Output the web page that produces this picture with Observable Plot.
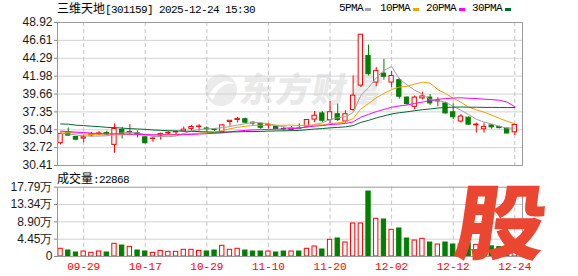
<!DOCTYPE html>
<html><head><meta charset="utf-8">
<script src="https://cdn.jsdelivr.net/npm/d3@7"></script>
<script src="https://cdn.jsdelivr.net/npm/@observablehq/plot@0.6"></script>
<style>
body{margin:0;background:#fff;}
#wrap{position:relative;width:578px;height:276px;background:#fff;}
.abs{position:absolute;white-space:nowrap;}
.mono{font-family:"Liberation Mono",monospace;font-size:11px;letter-spacing:-0.6px;}
.cjk{font-family:"Noto Sans CJK SC",sans-serif;}
#price,#vol{position:absolute;left:0;}
#price{top:0;z-index:2;}
#vol{top:168px;z-index:2;}
.sq{position:absolute;width:6px;height:3px;top:8px;}
</style></head><body>
<div id="wrap">
  <div class="abs" id="wm" style="left:203px;top:66px;z-index:1;">
    <svg width="36" height="36" style="position:absolute;left:0;top:6px" viewBox="0 0 36 36">
      <circle cx="18" cy="18" r="16" fill="#ebebeb"/>
      <path d="M6 24 C12 10, 24 6, 32 12 C22 10, 14 16, 10 28 Z" fill="#fff"/>
    </svg>
    <div class="abs cjk" style="left:38px;top:0;font-size:34px;font-weight:900;color:#e9e9e9;letter-spacing:2px;transform:skewX(-10deg);line-height:44px;">东方财富</div>
  </div>
  <div class="abs" style="left:57px;top:1px;line-height:14px;font-size:12px;color:#000;"><span class="cjk">三维天地</span><span class="mono">[301159] 2025-12-24 15:30</span></div>
  <div class="abs mono" style="left:339px;top:1px;line-height:14px;color:#000;">5PMA</div>
  <div class="sq" style="left:365px;background:#a6a6a6"></div>
  <div class="abs mono" style="left:380px;top:1px;line-height:14px;color:#000;">10PMA</div>
  <div class="sq" style="left:413px;background:#f0a000"></div>
  <div class="abs mono" style="left:426px;top:1px;line-height:14px;color:#000;">20PMA</div>
  <div class="sq" style="left:459px;background:#ff00ff"></div>
  <div class="abs mono" style="left:472px;top:1px;line-height:14px;color:#000;">30PMA</div>
  <div class="sq" style="left:505px;background:#006a33"></div>
  <div class="abs" style="left:57px;top:171px;line-height:14px;font-size:12px;color:#000;z-index:3;"><span class="cjk">成交量</span><span class="mono">:22868</span></div>
  <div id="price"></div>
  <div id="vol"></div>
  <div class="abs cjk" style="left:463px;top:176px;z-index:5;font-size:82px;font-weight:900;color:#ea4630;line-height:84px;transform:skewX(-8deg) scaleX(1.1);transform-origin:left top;">股</div>
</div>
<script>
const dates = ["09-24","09-25","09-26","09-29","09-30","10-09","10-10","10-13","10-14","10-15","10-16","10-17","10-20","10-21","10-22","10-23","10-24","10-27","10-28","10-29","10-30","10-31","11-03","11-04","11-05","11-06","11-07","11-10","11-11","11-12","11-13","11-14","11-17","11-18","11-19","11-20","11-21","11-24","11-25","11-26","11-27","11-28","12-01","12-02","12-03","12-04","12-05","12-08","12-09","12-10","12-11","12-12","12-15","12-16","12-17","12-18","12-19","12-22","12-23","12-24"];
const open  = [33.3,34.7,34.1,33.9,34.3,34.45,34.6,33.08,35.01,34.6,34.6,34.06,33.85,34.3,34.55,34.7,34.8,35.15,35.4,35.2,35.05,34.7,36.04,36.3,36.4,35.95,35.8,35.6,35.45,35.15,35.0,35.2,35.45,36.35,37.15,36.3,37.05,36.1,37.6,40.75,44.6,41.15,42.3,41.15,41.46,39.2,38.0,39.1,39.2,38.7,38.45,37.3,36.1,36.6,35.6,35.1,35.6,35.4,35.2,34.7];
const high  = [34.6,35.27,34.15,34.28,34.7,34.8,34.85,35.79,35.35,35.7,34.9,34.1,34.0,34.6,34.8,34.85,35.4,35.6,35.7,35.4,35.2,35.7,36.2,36.65,36.55,36.05,35.9,35.85,35.6,35.4,35.45,35.8,36.35,37.4,37.4,38.7,38.35,37.5,42.0,47.34,46.0,43.1,44.15,42.6,41.7,39.3,39.4,39.9,39.6,39.2,38.6,38.4,37.0,36.7,35.9,35.9,35.7,35.5,35.2,35.7];
const low   = [33.08,34.19,33.6,33.34,34.1,34.3,34.3,31.99,33.85,34.28,33.98,33.2,33.4,33.7,34.4,34.4,34.7,34.85,34.85,34.7,34.8,34.6,35.5,35.9,35.8,35.6,35.1,35.15,35.1,34.85,34.85,35.05,35.35,35.95,36.0,35.8,36.1,35.9,37.4,40.5,42.0,40.6,41.45,40.5,39.0,38.2,37.6,38.9,38.2,38.0,37.1,36.35,35.9,35.6,34.6,34.6,35.1,35.15,34.55,34.28];
const close = [34.5,34.28,33.75,34.06,34.45,34.55,34.45,35.14,34.5,34.75,34.35,33.29,33.9,34.5,34.65,34.75,35.05,35.4,35.45,35.1,35.0,35.6,36.2,36.45,35.95,35.85,35.3,35.65,35.15,35.1,35.2,35.15,36.3,36.85,36.2,37.3,36.3,37.05,39.45,47.34,42.24,42.66,41.9,42.0,39.31,38.37,39.2,39.35,38.45,38.8,37.15,36.65,36.75,35.7,35.7,35.4,35.35,35.25,34.55,35.65];
const volume = [19800,15400,10300,12800,9500,12800,10300,32600,28200,24800,15400,12800,9500,14500,12000,12000,17200,17200,14500,12800,15400,27500,17200,19800,15400,12800,12800,12800,10300,12800,12800,12800,19800,25700,18000,42800,46200,35900,84700,84700,166800,96800,95000,68500,71900,46200,41000,45400,35900,30800,35900,30800,30800,34000,30000,28200,26000,24000,23000,22868];
const ma5  = [34.6,34.5,34.35,34.25,34.21,34.22,34.25,34.53,34.62,34.68,34.64,34.41,34.16,34.16,34.14,34.22,34.57,34.87,35.06,35.15,35.2,35.31,35.45,35.65,35.82,35.99,35.93,35.84,35.58,35.41,35.28,35.25,35.38,35.72,35.94,36.36,36.59,36.74,37.26,39.49,40.48,41.75,42.72,43.23,41.62,40.85,40.16,39.65,38.94,38.83,38.59,38.08,37.56,37.01,36.39,36.04,35.78,35.48,35.25,35.24];
const ma10 = [34.75,34.7,34.6,34.5,34.42,34.38,34.36,34.38,34.4,34.44,34.43,34.33,34.34,34.39,34.41,34.43,34.49,34.51,34.61,34.64,34.71,34.94,35.16,35.36,35.49,35.6,35.62,35.65,35.62,35.62,35.64,35.59,35.61,35.65,35.68,35.82,35.92,36.06,36.49,37.71,38.42,39.17,39.73,40.24,40.56,40.66,40.95,41.18,41.08,40.23,39.72,39.12,38.6,37.97,37.61,37.32,36.93,36.52,36.13,35.82];
const ma20 = [34.86,34.8,34.73,34.67,34.6,34.54,34.51,34.5,34.5,34.47,34.45,34.41,34.38,34.37,34.37,34.37,34.4,34.43,34.48,34.54,34.57,34.63,34.75,34.87,34.95,35.01,35.05,35.08,35.11,35.13,35.17,35.27,35.39,35.5,35.58,35.71,35.77,35.85,36.05,36.66,37.03,37.38,37.67,37.95,38.12,38.24,38.44,38.62,38.79,38.97,39.07,39.14,39.17,39.11,39.08,38.99,38.94,38.85,38.61,38.02];
const ma30 = [35.79,35.76,35.63,35.57,35.5,35.44,35.35,35.31,35.25,35.18,35.14,35.09,35.01,34.96,34.92,34.88,34.86,34.83,34.8,34.76,34.73,34.73,34.76,34.77,34.8,34.8,34.82,34.86,34.88,34.9,34.92,34.95,35.04,35.13,35.19,35.28,35.34,35.41,35.57,35.99,36.25,36.57,36.83,37.08,37.24,37.36,37.5,37.63,37.73,37.85,37.92,37.96,37.98,37.96,37.95,37.93,37.93,37.92,37.9,37.92];
const priceTicks = [30.41,32.72,35.04,37.35,39.66,41.98,44.29,46.61,48.92];
const priceTickLabels = ["30.41","32.72","35.04","37.35","39.66","41.98","44.29","46.61","48.92"];
const volTicks = [0,44475,88950,133425,177900];
const volTickLabels = ["0","4.45万","8.90万","13.34万","17.79万"];
const dateTicks = ["09-29","10-17","10-29","11-10","11-20","12-02","12-12","12-24"];

const RED = "#ff0000", GREEN = "#008000";
const rows = dates.map((d, i) => ({
  i, date: d, o: open[i], h: high[i], l: low[i], c: close[i], v: volume[i],
  up: close[i] >= open[i],
  vup: i === 0 ? true : close[i] >= close[i - 1]
}));
const tickIdx = dateTicks.map(t => dates.indexOf(t));
const xDomain = [-0.4, 60];
const HW = 0.28;
const common = {width: 578, marginLeft: 57, marginRight: 56};
const style = {background: "transparent", fontFamily: "'Liberation Sans', Arial, sans-serif", fontSize: "12px", color: "#1a1a1a", overflow: "visible"};

const maSeries = [[ma5, "#a0a0a0"], [ma10, "#f0a000"], [ma20, "#ff00ff"], [ma30, "#006a33"]];

const price = Plot.plot({
  ...common, height: 168, marginTop: 22, marginBottom: 3, style,
  color: {type: "identity"},
  x: {type: "linear", domain: xDomain, axis: null},
  y: {domain: [30.41, 48.92], axis: null},
  marks: [
    Plot.ruleY(priceTicks.slice(1, -1), {stroke: "#d2d2d2", strokeWidth: 1}),
    Plot.ruleX(tickIdx, {stroke: "#c4c4c4", strokeDasharray: "4,3"}),
    Plot.ruleX(rows, {x: "i", y1: "l", y2: "h", stroke: d => d.up ? RED : GREEN, strokeWidth: 1}),
    Plot.rect(rows, {x1: d => d.i - HW, x2: d => d.i + HW, y1: "o", y2: "c",
      fill: d => d.up ? "#ffffff" : GREEN, stroke: d => d.up ? RED : GREEN, strokeWidth: 1}),
    ...maSeries.map(([arr, col]) => Plot.line(rows, {x: "i", y: d => arr[d.i], stroke: col, strokeWidth: 1})),
    Plot.axisY({ticks: priceTicks, tickFormat: d => priceTickLabels[priceTicks.indexOf(d)], tickSize: 3, tickPadding: 2, stroke: "#888", label: null}),
    Plot.frame({stroke: "#9a9a9a"})
  ]
});
document.getElementById("price").appendChild(price);

const vol = Plot.plot({
  ...common, height: 108, marginTop: 18.7, marginBottom: 20, style,
  color: {type: "identity"},
  x: {type: "linear", domain: xDomain, axis: null},
  y: {domain: [0, 177900], axis: null},
  marks: [
    Plot.ruleY(volTicks.slice(1, -1), {stroke: "#d2d2d2"}),
    Plot.ruleX(tickIdx, {stroke: "#c4c4c4", strokeDasharray: "4,3"}),
    Plot.rect(rows, {x1: d => d.i - HW, x2: d => d.i + HW, y1: 0, y2: "v",
      fill: d => d.vup ? "#ffffff" : GREEN, stroke: d => d.vup ? RED : GREEN, strokeWidth: 1}),
    Plot.axisY({ticks: volTicks, tickFormat: d => volTickLabels[volTicks.indexOf(d)], tickSize: 3, tickPadding: 2, stroke: "#888", label: null}),
    Plot.axisX({ticks: tickIdx, tickFormat: i => dates[i], tickSize: 0, tickPadding: 6, fill: RED, fontFamily: "'Liberation Mono', monospace", fontSize: 11, label: null}),
    Plot.frame({stroke: "#9a9a9a"})
  ]
});
document.getElementById("vol").appendChild(vol);
</script>
</body></html>
